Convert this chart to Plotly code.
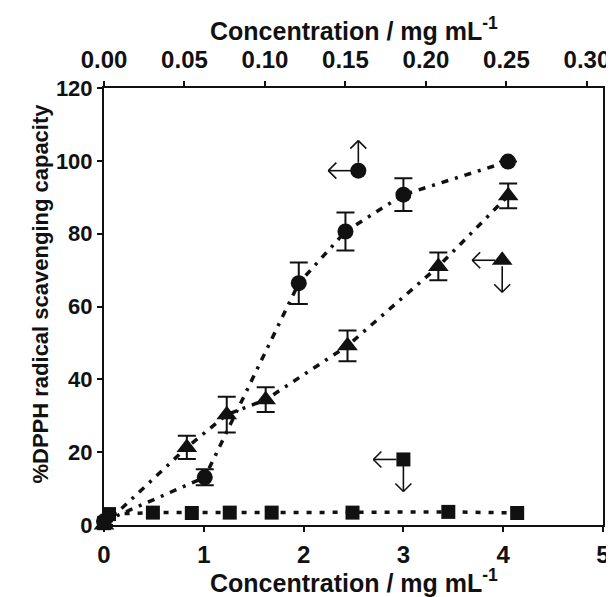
import plotly.graph_objects as go

# ---- data ----
# circles: plotted against the top axis (mg/mL, 0-0.30)
circle_x = [0.0, 0.0626, 0.121, 0.150, 0.186, 0.251]
circle_y = [1.0, 13.1, 66.4, 80.6, 90.7, 99.8]
circle_err = [0.0, 2.2, 5.7, 5.2, 4.5, 0.0]

# triangles: plotted against the bottom axis (mg/mL, 0-5)
tri_x = [0.0, 0.83, 1.23, 1.62, 2.44, 3.35, 4.05]
tri_y = [0.0, 21.3, 30.3, 34.4, 49.2, 71.0, 90.4]
tri_err = [0.0, 3.2, 4.9, 3.4, 4.2, 3.8, 3.4]

# squares: plotted against the bottom axis
sq_x = [0.0, 0.05, 0.49, 0.88, 1.26, 1.68, 2.49, 3.45, 4.14]
sq_y = [0.5, 3.0, 3.4, 3.3, 3.4, 3.4, 3.4, 3.6, 3.3]

# axis key glyphs (which axis each series belongs to)
key_circle = (0.158, 97.3)   # top x axis
key_tri = (3.99, 72.7)       # bottom x axis
key_sq = (3.0, 18.0)         # bottom x axis

x_ticks = [0, 1, 2, 3, 4, 5]
x2_ticks = [0.00, 0.05, 0.10, 0.15, 0.20, 0.25, 0.30]
y_ticks = [0, 20, 40, 60, 80, 100, 120]

x_title = "Concentration / mg mL<sup>-1</sup>"
y_title = "%DPPH radical scavenging capacity"

FONT = "Liberation Sans, Arial, sans-serif"
BLACK = "#111111"

fig = go.Figure()

fig.add_trace(go.Scatter(
    x=sq_x, y=sq_y, mode="lines+markers", xaxis="x", yaxis="y",
    marker=dict(symbol="square", size=14, color=BLACK),
    line=dict(color=BLACK, width=3.5, dash="5px,8px"),
    cliponaxis=False, showlegend=False))

fig.add_trace(go.Scatter(
    x=tri_x, y=tri_y, mode="lines+markers", xaxis="x", yaxis="y",
    marker=dict(symbol="triangle-up", size=18, color=BLACK),
    line=dict(color=BLACK, width=3.5, dash="7px,7px,3px,7px"),
    error_y=dict(type="data", array=tri_err, visible=True, color=BLACK,
                 thickness=2, width=9),
    cliponaxis=False, showlegend=False))

fig.add_trace(go.Scatter(
    x=circle_x, y=circle_y, mode="lines+markers", xaxis="x2", yaxis="y",
    marker=dict(symbol="circle", size=16, color=BLACK),
    line=dict(color=BLACK, width=3.5, dash="7px,7px,3px,7px"),
    error_y=dict(type="data", array=circle_err, visible=True, color=BLACK,
                 thickness=2, width=9),
    cliponaxis=False, showlegend=False))

# key glyph markers
fig.add_trace(go.Scatter(x=[key_circle[0]], y=[key_circle[1]], xaxis="x2", yaxis="y",
                         mode="markers", marker=dict(symbol="circle", size=16, color=BLACK),
                         showlegend=False, hoverinfo="skip"))
fig.add_trace(go.Scatter(x=[key_tri[0]], y=[key_tri[1]], xaxis="x", yaxis="y",
                         mode="markers", marker=dict(symbol="triangle-up", size=18, color=BLACK),
                         showlegend=False, hoverinfo="skip"))
fig.add_trace(go.Scatter(x=[key_sq[0]], y=[key_sq[1]], xaxis="x", yaxis="y",
                         mode="markers", marker=dict(symbol="square", size=14, color=BLACK),
                         showlegend=False, hoverinfo="skip"))

shapes = []


def seg(xref, anchor, p0, p1):
    shapes.append(dict(type="line", xref=xref, yref="y",
                       xsizemode="pixel", ysizemode="pixel",
                       xanchor=anchor[0], yanchor=anchor[1],
                       x0=p0[0], y0=p0[1], x1=p1[0], y1=p1[1],
                       line=dict(color=BLACK, width=1.6)))


def arrow_left(xref, anchor, start=7, length=30):
    seg(xref, anchor, (-start, 0), (-length, 0))
    seg(xref, anchor, (-length, 0), (-length + 8, 8))
    seg(xref, anchor, (-length, 0), (-length + 8, -8))


def arrow_up(xref, anchor, start=8, length=30):
    seg(xref, anchor, (0, start), (0, length))
    seg(xref, anchor, (0, length), (-8, length - 8))
    seg(xref, anchor, (0, length), (8, length - 8))


def arrow_down(xref, anchor, start=6, length=32):
    seg(xref, anchor, (0, -start), (0, -length))
    seg(xref, anchor, (0, -length), (-8, -length + 8))
    seg(xref, anchor, (0, -length), (8, -length + 8))


arrow_left("x2", key_circle)
arrow_up("x2", key_circle)
arrow_left("x", key_tri)
arrow_down("x", key_tri)
arrow_left("x", key_sq)
arrow_down("x", key_sq)

xtickfont = dict(family=FONT, size=24, color=BLACK, weight="bold")
ytickfont = dict(family=FONT, size=22, color=BLACK, weight="bold")
titlefont = dict(family=FONT, size=25, color=BLACK, weight="bold")
ytitlefont = dict(family=FONT, size=22, color=BLACK, weight="bold")

annotations = [
    dict(text=x_title, xref="paper", yref="paper", x=0.5, y=-0.128,
         xanchor="center", yanchor="middle", showarrow=False, font=titlefont),
    dict(text=x_title, xref="paper", yref="paper", x=0.5, y=1.135,
         xanchor="center", yanchor="middle", showarrow=False, font=titlefont),
    dict(text=y_title, xref="paper", yref="paper", x=-0.128, y=0.53,
         xanchor="center", yanchor="middle", textangle=-90, showarrow=False,
         font=ytitlefont),
]

axis_common = dict(showgrid=False, zeroline=False, showline=True, linecolor=BLACK,
                   linewidth=2, ticks="outside", ticklen=5, tickwidth=2, tickcolor=BLACK)

fig.update_layout(
    width=614, height=597,
    margin=dict(l=96, r=13, t=80, b=80),
    paper_bgcolor="white", plot_bgcolor="white",
    shapes=shapes,
    annotations=annotations,
    xaxis=dict(range=[0, 5], tickvals=x_ticks, ticktext=[str(v) for v in x_ticks],
               tickfont=xtickfont, ticklabelstandoff=2, **axis_common),
    xaxis2=dict(range=[0, 0.31], tickvals=x2_ticks, ticktext=[f"{v:.2f}" for v in x2_ticks],
                overlaying="x", side="top", anchor="y",
                tickfont=xtickfont, ticklabelstandoff=3, **axis_common),
    yaxis=dict(range=[0, 120], tickvals=y_ticks, ticktext=[str(v) for v in y_ticks],
               mirror=True, tickfont=ytickfont, **axis_common),
)

fig.write_html("out.html")
